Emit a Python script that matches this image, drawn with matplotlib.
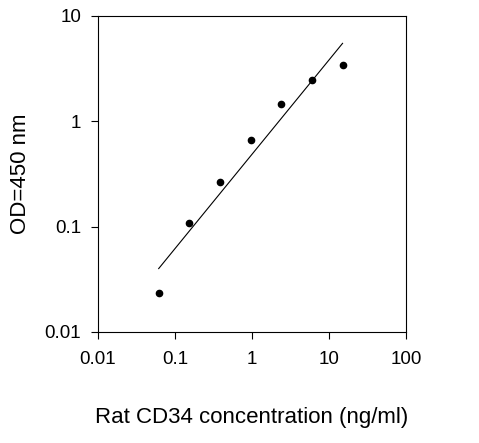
import matplotlib
matplotlib.use('Agg')
import matplotlib.pyplot as plt

plt.rcParams['font.family'] = ['Liberation Sans', 'DejaVu Sans']

conc = [0.0614, 0.154, 0.384, 0.96, 2.4, 6.0, 15.0]
od = [0.0235, 0.108, 0.265, 0.66, 1.45, 2.45, 3.4]
fit_x = [0.0614, 15.0]
fit_y = [0.040, 5.5]

fig = plt.figure(figsize=(4.79, 4.43), dpi=100)
ax = fig.add_axes([98/479, 1-332/443, 308/479, 316/443])
ax.plot(fit_x, fit_y, color='black', lw=0.8)
ax.plot(conc, od, 'o', color='black', ms=4.5)
ax.set_xscale('log')
ax.set_yscale('log')
ax.set_xlim(0.01, 100)
ax.set_ylim(0.01, 10)
ax.set_xticks([0.01, 0.1, 1, 10, 100])
ax.set_xticklabels(['0.01', '0.1', '1', '10', '100'])
ax.set_yticks([0.01, 0.1, 1, 10])
ax.set_yticklabels(['0.01', '0.1', '1', '10'])
ax.minorticks_off()
ax.tick_params(labelsize=13.5, length=5, width=0.8, direction='out')
ax.tick_params(axis='x', pad=9)
ax.tick_params(axis='y', pad=7)
for s in ax.spines.values():
    s.set_linewidth(0.8)
ax.set_xlabel('Rat CD34 concentration (ng/ml)', fontsize=16, labelpad=28)
ax.set_ylabel('OD=450 nm', fontsize=16, labelpad=10)
fig.savefig('out.png', dpi=100)
